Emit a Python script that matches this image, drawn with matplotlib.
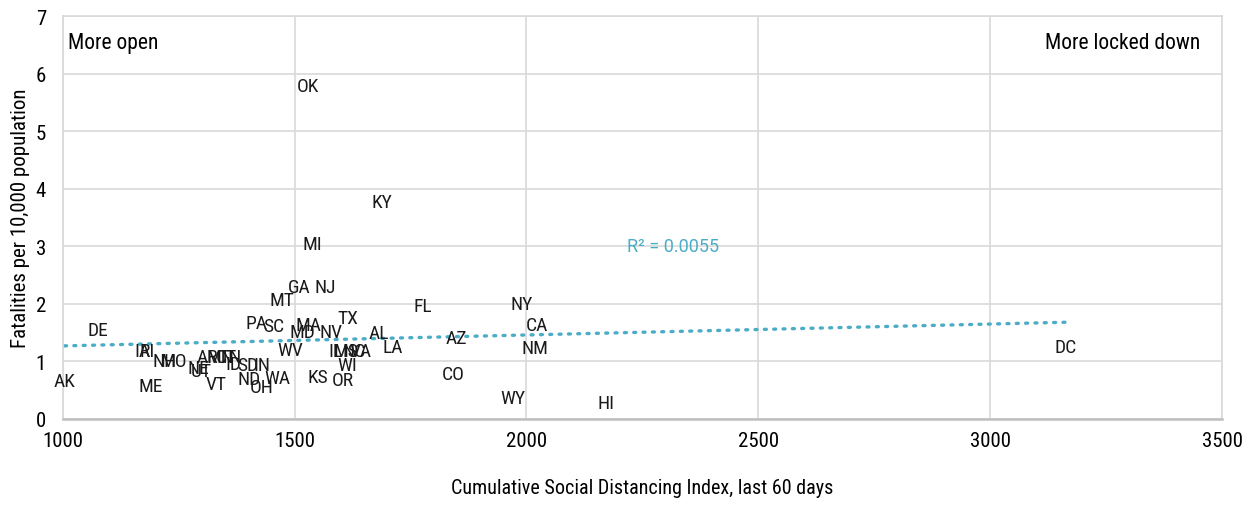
import matplotlib
matplotlib.use("Agg")
import matplotlib.pyplot as plt

# data
states = ["AK", "DE", "IA", "RI", "ME", "NH", "MO", "NE", "UT", "VT",
          "AR", "MN", "CT", "TN", "ID", "SD", "IN", "ND", "OH", "WA",
          "PA", "SC", "MT", "WV", "GA", "MD", "OK", "MA", "MI", "KS",
          "NJ", "NV", "IL", "OR", "MS", "WI", "TX", "NC", "VA", "AL",
          "KY", "LA", "FL", "CO", "AZ", "WY", "NY", "NM", "CA", "HI", "DC"]
distancing = [1004, 1075, 1173, 1183, 1190, 1220, 1239, 1293, 1298, 1330,
              1313, 1339, 1352, 1362, 1369, 1399, 1429, 1403, 1429, 1464,
              1418, 1455, 1472, 1490, 1511, 1516, 1528, 1531, 1539, 1550,
              1567, 1578, 1589, 1604, 1610, 1613, 1615, 1628, 1643, 1682,
              1688, 1712, 1777, 1843, 1848, 1971, 1990, 2018, 2022, 2171, 3163]
fatalities = [0.66, 1.55, 1.18, 1.18, 0.57, 1.01, 1.01, 0.89, 0.83, 0.61,
              1.08, 1.08, 1.08, 1.08, 0.96, 0.94, 0.94, 0.70, 0.56, 0.71,
              1.67, 1.62, 2.07, 1.20, 2.30, 1.51, 5.79, 1.63, 3.04, 0.73,
              2.30, 1.51, 1.18, 0.68, 1.18, 0.94, 1.76, 1.18, 1.18, 1.50,
              3.77, 1.25, 1.97, 0.78, 1.41, 0.37, 2.00, 1.23, 1.63, 0.28, 1.25]

# linear trend (as shown in the chart)
trend_slope = 0.00019
trend_intercept = 1.08
r2_text = "R² = 0.0055"

FONT = ["Liberation Sans Narrow", "Roboto Condensed", "Roboto", "DejaVu Sans"]
plt.rcParams["font.family"] = FONT
TEAL = "#4bacc6"

fig = plt.figure(figsize=(12.54, 5.06), dpi=100)
ax = fig.add_axes([0.050, 0.170, 0.9245, 0.796])

for s, x, y in zip(states, distancing, fatalities):
    ax.text(x, y, s, ha="center", va="center", fontsize=14, color="#1a1a1a")

xmin, xmax = min(distancing), max(distancing)
ax.plot([xmin, xmax],
        [trend_intercept + trend_slope * xmin, trend_intercept + trend_slope * xmax],
        color=TEAL, linewidth=2.4, linestyle=(0, (0.6, 2.2)),
        dash_capstyle="round")
ax.text(2316, 3.0, r2_text, ha="center", va="center", fontsize=13,
        color=TEAL, family=["Roboto", "DejaVu Sans"])

ax.text(0.005, 0.935, "More open", transform=ax.transAxes, ha="left",
        va="center", fontsize=15.5)
ax.text(0.981, 0.935, "More locked down", transform=ax.transAxes, ha="right",
        va="center", fontsize=15.5)

ax.set_xlim(1000, 3500)
ax.set_ylim(0, 7)
ax.set_xticks(range(1000, 3501, 500))
ax.set_yticks(range(0, 8))
ax.grid(True, color="#d9d9d9", linewidth=1.2)
ax.set_axisbelow(True)
ax.tick_params(length=0, labelsize=15, pad=9)
ax.tick_params(axis="y", pad=12)
for side in ["top", "right", "left"]:
    ax.spines[side].set_color("#d9d9d9")
    ax.spines[side].set_linewidth(1.2)
ax.spines["bottom"].set_color("#bfbfbf")
ax.spines["bottom"].set_linewidth(1.8)

ax.set_xlabel("Cumulative Social Distancing Index, last 60 days", fontsize=14.5, labelpad=20)
ax.set_ylabel("Fatalities per 10,000 population", fontsize=15, labelpad=4)

fig.savefig("out.png", dpi=100)
